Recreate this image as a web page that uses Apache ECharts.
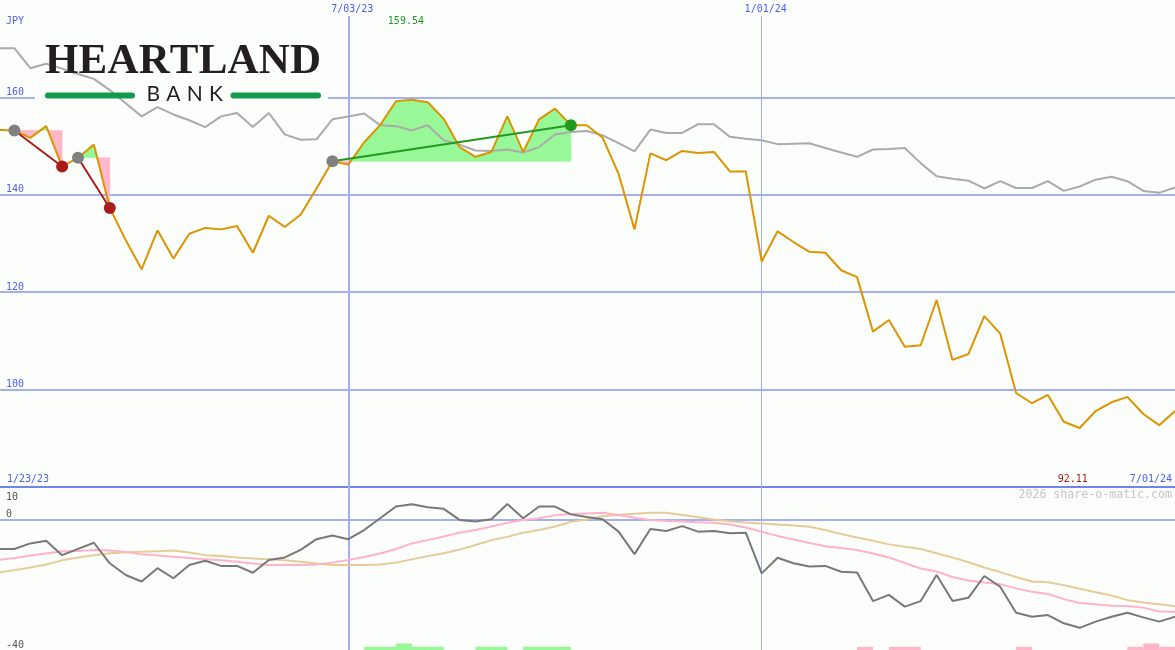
<!DOCTYPE html>
<html>
<head>
<meta charset="utf-8">
<script src="https://cdn.jsdelivr.net/npm/echarts@6/dist/echarts.min.js"></script>
<style>
html,body{margin:0;padding:0;background:#fcfefc;}
#c{width:1175px;height:650px;}
</style>
</head>
<body>
<div id="c"></div>
<script>
// ---------------- DATA ----------------
const dates = [
 '2023-01-23','2023-01-30','2023-02-06','2023-02-13','2023-02-20','2023-02-27','2023-03-06','2023-03-13','2023-03-20','2023-03-27',
 '2023-04-03','2023-04-10','2023-04-17','2023-04-24','2023-05-01','2023-05-08','2023-05-15','2023-05-22','2023-05-29','2023-06-05',
 '2023-06-12','2023-06-19','2023-06-26','2023-07-03','2023-07-10','2023-07-17','2023-07-24','2023-07-31','2023-08-07','2023-08-14',
 '2023-08-21','2023-08-28','2023-09-04','2023-09-11','2023-09-18','2023-09-25','2023-10-02','2023-10-09','2023-10-16','2023-10-23',
 '2023-10-30','2023-11-06','2023-11-13','2023-11-20','2023-11-27','2023-12-04','2023-12-11','2023-12-18','2023-12-25','2024-01-01',
 '2024-01-08','2024-01-15','2024-01-22','2024-01-29','2024-02-05','2024-02-12','2024-02-19','2024-02-26','2024-03-04','2024-03-11',
 '2024-03-18','2024-03-25','2024-04-01','2024-04-08','2024-04-15','2024-04-22','2024-04-29','2024-05-06','2024-05-13','2024-05-20',
 '2024-05-27','2024-06-03','2024-06-10','2024-06-17','2024-06-24','2024-07-01'
];
// share price, JPY (orange)
const price = [
 153.0, 153.3, 153.2, 151.7, 154.1, 145.8, 147.6, 150.3, 137.3, 130.7,
 124.7, 132.7, 126.9, 132.0, 133.2, 132.9, 133.6, 128.1, 135.7, 133.4,
 135.9, 141.3, 146.9, 146.2, 150.8, 154.3, 159.2, 159.54, 159.0, 155.6,
 149.8, 147.8, 148.8, 156.1, 148.8, 155.5, 157.7, 154.3, 154.3, 151.7,
 144.3, 132.9, 148.5, 147.1, 149.0, 148.6, 148.8, 144.8, 144.8, 126.3,
 132.5, 130.3, 128.3, 128.1, 124.5, 123.1, 111.9, 114.3, 108.8, 109.1,
 118.4, 106.1, 107.3, 115.1, 111.5, 99.3, 97.2, 98.9, 93.4, 92.11,
 95.6, 97.4, 98.5, 95.0, 92.7, 95.6
];
// comparison line (gray)
const compare = [
 170.1, 170.1, 170.1, 166.0, 166.9, 165.9, 164.8, 163.8, 161.5, 158.8,
 156.1, 158.0, 156.5, 155.3, 153.9, 156.1, 156.8, 153.9, 156.8, 152.4,
 151.3, 151.4, 155.5, 156.1, 156.7, 154.3, 154.1, 153.2, 154.3, 151.2,
 150.3, 149.1, 149.0, 149.3, 148.7, 149.8, 152.4, 152.9, 153.1, 152.2,
 150.6, 148.9, 153.4, 152.7, 152.7, 154.5, 154.5, 151.9, 151.5, 151.2,
 150.4, 150.5, 150.6, 149.6, 148.7, 147.8, 149.3, 149.4, 149.6, 146.5,
 143.8, 143.3, 142.9, 141.3, 142.8, 141.4, 141.4, 142.8, 140.8, 141.7,
 143.1, 143.7, 142.8, 140.8, 140.4, 141.5
];
// lower panel: oscillator (dark gray)
const osc = [
 -9.0, -9.0, -9.0, -7.3, -6.5, -10.9, -9.0, -7.1, -13.4, -17.0,
 -19.0, -14.9, -18.0, -13.9, -12.6, -14.2, -14.2, -16.3, -12.4, -11.6,
 -9.3, -6.0, -4.9, -6.0, -3.2, 0.4, 4.0, 4.7, 3.8, 3.3,
 -0.1, -0.6, 0.1, 4.8, 0.4, 4.0, 4.0, 1.6, 0.8, 0.1,
 -3.7, -10.6, -2.9, -3.5, -2.0, -3.7, -3.5, -4.2, -4.0, -16.5,
 -11.7, -13.4, -14.4, -14.2, -16.0, -16.2, -25.0, -23.1, -26.7, -25.0,
 -17.0, -25.0, -24.0, -17.3, -20.6, -28.6, -29.8, -29.3, -31.8, -33.2,
 -31.3, -29.8, -28.6, -30.0, -31.3, -29.8
];
// lower panel: fast average (pink)
const oscFast = [
 -13.0, -12.4, -11.8, -11.0, -10.4, -9.8, -9.6, -9.3, -9.5, -9.9,
 -10.6, -11.0, -11.4, -11.8, -12.2, -12.5, -12.9, -13.5, -13.9, -13.9,
 -13.9, -13.8, -13.2, -12.4, -11.5, -10.4, -9.0, -7.3, -6.3, -5.2,
 -4.0, -3.2, -2.1, -1.0, -0.1, 0.4, 1.3, 1.7, 1.9, 2.1,
 1.4, 0.6, -0.1, -0.4, -0.6, -0.8, -1.0, -1.5, -2.4, -3.7,
 -5.0, -6.1, -7.2, -8.2, -8.7, -9.3, -10.4, -11.6, -13.3, -15.0,
 -15.9, -17.6, -18.7, -19.3, -19.8, -21.1, -22.1, -22.8, -24.4, -25.6,
 -26.0, -26.4, -26.5, -27.0, -28.2, -28.3
];
// lower panel: slow average (tan)
const oscSlow = [
 -16.8, -16.2, -15.5, -14.7, -13.8, -12.5, -11.6, -10.9, -10.3, -10.0,
 -9.9, -9.7, -9.5, -10.1, -10.9, -11.2, -11.6, -11.9, -12.2, -12.5,
 -12.9, -13.5, -13.9, -13.9, -13.9, -13.8, -13.2, -12.2, -11.2, -10.3,
 -9.2, -7.8, -6.3, -5.3, -4.0, -3.2, -2.1, -0.7, 0.0, 1.0,
 1.5, 1.8, 2.1, 2.1, 1.4, 0.7, 0.0, -0.5, -0.9, -1.2,
 -1.5, -1.8, -2.2, -3.2, -4.4, -5.5, -6.5, -7.6, -8.3, -9.0,
 -10.3, -11.6, -13.1, -14.7, -16.1, -17.6, -19.0, -19.2, -20.1, -21.2,
 -22.3, -23.3, -24.7, -25.4, -26.0, -26.6
];
// lower panel signal bars (+ green, - pink)
const signal = [
 0,0,0,0,0,0,0,0,0,0,
 0,0,0,0,0,0,0,0,0,0,
 0,0,0,0,1,1,2,1,1,0,
 0,1,1,0,1,1,1,0,0,0,
 0,0,0,0,0,0,0,0,0,0,
 0,0,0,0,0,-1,0,-1,-1,0,
 0,0,0,0,0,-1,0,0,0,0,
 0,0,-1,-2,-1,0
];
// trades: index of entry week and exit week
const tradeEntry = [2, 6, 22];
const tradeExit  = [5, 8, 37];
// tick labels
const topTickLabels = [100, 120, 140, 160];
const lowTickLabels = [10, 0, -40];
const markerDates = ['2023-07-03', '2024-01-01'];
const unitLabel = 'JPY';
const watermark = '2026 share-o-matic.com';

// ---------------- STYLE ----------------
const BG = '#fcfefc';
const GRID = '#a3b1f2';
const SEP = '#7283ea';
const LABEL_BLUE = '#4f60ee';
const ORANGE = '#dc9400';
const GRAY = '#aaaaaa';
const DARK = '#787878';
const PINK = '#ffb2c8';
const TAN = '#e6cb98';
const GAIN_FILL = '#98f898';
const LOSS_FILL = '#ffb6c8';
const ENTRY_C = '#808080';
const LOSS_C = '#a81c1c';
const GAIN_C = '#229a22';
const MONO = '"DejaVu Sans Mono", monospace';

const ts = s => { const p = s.split('-').map(Number); return Date.UTC(p[0], p[1]-1, p[2]); };
const DAY = 86400000;
const T = dates.map(ts);
const XMIN = ts('2023-07-03') - 153.34 * DAY;
const XMAX = ts('2024-01-01') + 181.96 * DAY;
const TOP_LINE_START = 176.71;

const trades = tradeEntry.map((e, k) => ({ entry: e, exit: tradeExit[k] }));
const pairs = arr => arr.map((v, i) => [T[i], v]);
const barIdx = signal.map((v, i) => v !== 0 ? i : -1).filter(i => i >= 0);

function fillItem(params, api) {
  const tr = trades[params.dataIndex];
  const L = price[tr.entry];
  const children = [];
  for (let j = tr.entry; j < tr.exit; j++) {
    const t0 = T[j], t1 = T[j+1], v0 = price[j], v1 = price[j+1];
    const d0 = v0 - L, d1 = v1 - L;
    const pieces = [];
    if (d0 * d1 < 0) {
      const tc = t0 + (t1 - t0) * d0 / (d0 - d1);
      pieces.push([t0, v0, tc, L, d0]);
      pieces.push([tc, L, t1, v1, d1]);
    } else {
      pieces.push([t0, v0, t1, v1, d0 + d1]);
    }
    pieces.forEach(([a, va, b, vb, s]) => {
      if (s === 0) return;
      children.push({
        type: 'polygon',
        shape: { points: [api.coord([a, L]), api.coord([a, va]), api.coord([b, vb]), api.coord([b, L])] },
        style: { fill: s > 0 ? GAIN_FILL : LOSS_FILL, stroke: s > 0 ? GAIN_FILL : LOSS_FILL, lineWidth: 0.6 }
      });
    });
  }
  return { type: 'group', children };
}

function barItem(params, api) {
  const i = barIdx[params.dataIndex];
  const v = signal[i];
  const tEnd = i + 1 < T.length ? T[i+1] : T[i] + 7 * DAY;
  const p0 = api.coord([T[i], -40]);
  const p1 = api.coord([tEnd, -40 + Math.abs(v)]);
  return {
    type: 'rect',
    shape: { x: p0[0], y: p1[1], width: p1[0] - p0[0], height: p0[1] - p1[1] },
    style: { fill: v > 0 ? GAIN_FILL : LOSS_FILL }
  };
}

const vTop = markerDates.map((d, k) => [
  { coord: [ts(d), TOP_LINE_START], lineStyle: { width: k === 0 ? 2 : 1 } },
  { coord: [ts(d), 80] }
]);
const vLow = markerDates.map((d, k) => ({ xAxis: ts(d), lineStyle: { width: k === 0 ? 2 : 1 } }));

const tradeSeries = trades.map(tr => {
  const gain = price[tr.exit] >= price[tr.entry];
  return {
    type: 'line', xAxisIndex: 0, yAxisIndex: 0, z: 7, silent: true,
    symbol: 'circle', symbolSize: 12, showSymbol: true,
    lineStyle: { color: gain ? GAIN_C : LOSS_C, width: 2 },
    data: [
      { value: [T[tr.entry], price[tr.entry]], itemStyle: { color: ENTRY_C } },
      { value: [T[tr.exit], price[tr.exit]], itemStyle: { color: gain ? GAIN_C : LOSS_C } }
    ]
  };
});

const hiddenAxis = { axisLine: { show: false }, axisTick: { show: false }, splitLine: { show: false } };

const option = {
  backgroundColor: BG,
  animation: false,
  grid: [
    { left: 0, right: 0, top: 0, height: 487 },
    { left: 0, right: 0, top: 487, bottom: 0 }
  ],
  xAxis: [
    { type: 'time', gridIndex: 0, min: XMIN, max: XMAX,
      axisLine: { show: true, onZero: false, lineStyle: { color: SEP, width: 2 } },
      axisTick: { show: false }, axisLabel: { show: false }, splitLine: { show: false } },
    { type: 'time', gridIndex: 1, min: XMIN, max: XMAX,
      axisLine: { show: false }, axisTick: { show: false }, axisLabel: { show: false }, splitLine: { show: false } }
  ],
  yAxis: [
    Object.assign({ type: 'value', gridIndex: 0, position: 'left', min: 80, max: 180, interval: 20,
      axisLabel: { inside: true, margin: 6, color: LABEL_BLUE, fontFamily: MONO, fontSize: 10, verticalAlign: 'bottom',
        formatter: v => topTickLabels.includes(v) ? String(v) : '' } }, hiddenAxis),
    Object.assign({ type: 'value', gridIndex: 1, position: 'left', min: -40, max: 10, interval: 10,
      axisLabel: { inside: true, margin: 6, color: '#555555', fontFamily: MONO, fontSize: 10, verticalAlign: 'bottom',
        formatter: v => (lowTickLabels.includes(v) && v !== 10) ? String(v) : '' } }, hiddenAxis),
    Object.assign({ type: 'value', gridIndex: 1, position: 'left', offset: 0, min: -40, max: 10, interval: 10,
      axisLabel: { inside: true, margin: 6, color: '#555555', fontFamily: MONO, fontSize: 10, verticalAlign: 'top',
        padding: [5, 0, 0, 0],
        formatter: v => v === 10 ? '10' : '' } }, hiddenAxis)
  ],
  series: [
    { type: 'line', xAxisIndex: 0, yAxisIndex: 0, data: [], silent: true,
      markLine: { z: 1, silent: true, symbol: 'none', label: { show: false }, animation: false,
        lineStyle: { color: GRID, width: 2, type: 'solid' },
        data: topTickLabels.map(v => ({ yAxis: v })).concat(vTop) } },
    { type: 'line', xAxisIndex: 1, yAxisIndex: 1, data: [], silent: true,
      markLine: { z: 1, silent: true, symbol: 'none', label: { show: false }, animation: false,
        lineStyle: { color: GRID, width: 2, type: 'solid' },
        data: [{ yAxis: 0 }].concat(vLow) } },
    { type: 'custom', xAxisIndex: 0, yAxisIndex: 0, z: 3, silent: true,
      renderItem: fillItem, data: trades.map(tr => [T[tr.entry], price[tr.entry]]) },
    { type: 'line', xAxisIndex: 0, yAxisIndex: 0, z: 4, silent: true, showSymbol: false,
      lineStyle: { color: GRAY, width: 2 }, data: pairs(compare) },
    { type: 'line', xAxisIndex: 0, yAxisIndex: 0, z: 5, silent: true, showSymbol: false,
      lineStyle: { color: ORANGE, width: 2 }, data: pairs(price) },
    ...tradeSeries,
    { type: 'custom', xAxisIndex: 1, yAxisIndex: 1, z: 3, silent: true,
      renderItem: barItem, data: barIdx.map(i => [T[i], signal[i]]) },
    { type: 'line', xAxisIndex: 1, yAxisIndex: 1, z: 4, silent: true, showSymbol: false,
      lineStyle: { color: TAN, width: 2 }, data: pairs(oscSlow) },
    { type: 'line', xAxisIndex: 1, yAxisIndex: 1, z: 5, silent: true, showSymbol: false,
      lineStyle: { color: PINK, width: 2 }, data: pairs(oscFast) },
    { type: 'line', xAxisIndex: 1, yAxisIndex: 1, z: 6, silent: true, showSymbol: false,
      lineStyle: { color: DARK, width: 2 }, data: pairs(osc) }
  ]
};

const chart = echarts.init(document.getElementById('c'), null, { renderer: 'canvas' });
chart.setOption(option);

// ---------------- TEXT & LOGO ----------------
const fmtDate = s => { const p = s.split('-'); return (+p[1]) + '/' + p[2] + '/' + p[0].slice(2); };
const px = (t, v, g) => chart.convertToPixel({ gridIndex: g }, [t, v]);

function txt(text, x, y, fill, font, align, z) {
  return { type: 'text', z: z || 10, silent: true,
    style: { text, x, y, fill, font, textAlign: align, textVerticalAlign: 'middle', align, verticalAlign: 'middle' } };
}
function spaced(text, font, x0, x1, yc, fill) {
  const ctx = document.createElement('canvas').getContext('2d');
  ctx.font = font;
  const chars = text.split('');
  const ws = chars.map(ch => ctx.measureText(ch).width);
  const sum = ws.reduce((a, b) => a + b, 0);
  const gap = (x1 - x0 - sum) / (chars.length - 1);
  let x = x0; const els = [];
  chars.forEach((ch, k) => { els.push(txt(ch, x, yc, fill, font, 'left', 9)); x += ws[k] + gap; });
  return els;
}

let iMax = 0, iMin = 0;
price.forEach((v, i) => { if (v > price[iMax]) iMax = i; if (v < price[iMin]) iMin = i; });

const els = [];
// logo backing box (covers the grid line only)
els.push({ type: 'rect', z: 2, silent: true, shape: { x: 35, y: 38, width: 293, height: 68 }, style: { fill: BG } });
// logo
els.push(...spaced('HEARTLAND', 'bold 43px "Liberation Serif", serif', 45, 321, 61.5, '#231f20'));
els.push(...spaced('BANK', '21px Lato, "DejaVu Sans", sans-serif', 146.5, 223, 94.5, '#231f20'));
els.push({ type: 'rect', z: 9, silent: true, shape: { x: 45, y: 92.5, width: 90, height: 6, r: 3 }, style: { fill: '#13994b' } });
els.push({ type: 'rect', z: 9, silent: true, shape: { x: 230.5, y: 92.5, width: 90.5, height: 6, r: 3 }, style: { fill: '#13994b' } });

// labels
const F10 = '10px ' + MONO;
els.push(txt(unitLabel, 6, 21, LABEL_BLUE, F10, 'left'));
markerDates.forEach(d => {
  const p = px(ts(d), 150, 0);
  els.push(txt(fmtDate(d), p[0] + 4, 9, LABEL_BLUE, F10, 'center'));
});
const pMax = px(T[iMax], price[iMax], 0);
els.push(txt(price[iMax].toFixed(2), pMax[0] - 6, 21, GAIN_C, F10, 'center'));
const pMin = px(T[iMin], price[iMin], 0);
els.push(txt(price[iMin].toFixed(2), pMin[0] - 7, 479, LOSS_C, F10, 'center'));
els.push(txt(fmtDate(dates[0]), 7, 479, LABEL_BLUE, F10, 'left'));
els.push(txt(fmtDate(dates[dates.length - 1]), 1172, 479, LABEL_BLUE, F10, 'right'));
els.push(txt(watermark, 1172, 495, '#c4c4c4', '11.6px ' + MONO, 'right'));

chart.setOption({ graphic: { elements: els } });
</script>
</body>
</html>
